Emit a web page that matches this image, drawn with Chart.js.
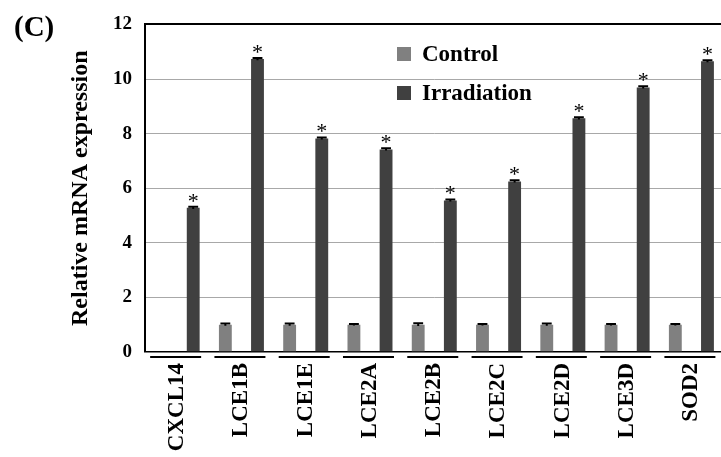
<!DOCTYPE html>
<html>
<head>
<meta charset="utf-8">
<script src="https://cdn.jsdelivr.net/npm/chart.js@4.4.1/dist/chart.umd.min.js"></script>
<style>
  html, body { margin: 0; padding: 0; background: #fff; overflow: hidden; }
  #wrap { width: 730px; height: 457px; }
</style>
</head>
<body>
<div id="wrap"><canvas id="mrnaChart"></canvas></div>
<script>
const genes = ['CXCL14', 'LCE1B', 'LCE1E', 'LCE2A', 'LCE2B', 'LCE2C', 'LCE2D', 'LCE3D', 'SOD2'];
const controlValues = [null, 1, 1, 1, 1, 1, 1, 1, 1];
const controlErrors = [0, 0.04, 0.04, 0.03, 0.05, 0.03, 0.04, 0.03, 0.03];
const irradiationValues = [5.28, 10.73, 7.82, 7.42, 5.55, 6.25, 8.56, 9.69, 10.65];
const irradiationErrors = [0.04, 0.04, 0.04, 0.04, 0.04, 0.04, 0.04, 0.04, 0.04];
const significance = ['*', '*', '*', '*', '*', '*', '*', '*', '*'];
const yTicks = [0, 2, 4, 6, 8, 10, 12];
const panelLabel = '(C)';

const serif = '"Liberation Serif", "Times New Roman", serif';

// small error caps on top of every bar
const errorBars = {
  id: 'errorBars',
  afterDatasetsDraw(chart) {
    const ctx = chart.ctx;
    const y = chart.scales.y;
    ctx.save();
    ctx.strokeStyle = '#000';
    ctx.lineWidth = 2;
    chart.data.datasets.forEach((ds, i) => {
      chart.getDatasetMeta(i).data.forEach((bar, j) => {
        const v = ds.data[j];
        if (v == null) return;
        const e = ds.errors[j];
        const top = y.getPixelForValue(v + e);
        const bot = y.getPixelForValue(v - e);
        const half = bar.width / 2 - 1.5;
        ctx.beginPath();
        ctx.moveTo(bar.x, bot);
        ctx.lineTo(bar.x, top);
        ctx.moveTo(bar.x - half, top);
        ctx.lineTo(bar.x + half, top);
        ctx.stroke();
      });
    });
    ctx.restore();
  }
};

const extras = {
  id: 'extras',
  afterDraw(chart) {
    const ctx = chart.ctx;
    const x = chart.scales.x;
    const y = chart.scales.y;
    const area = chart.chartArea;
    ctx.save();

    // asterisks over irradiation bars
    ctx.fillStyle = '#000';
    ctx.font = '22px ' + serif;
    ctx.textAlign = 'center';
    ctx.textBaseline = 'alphabetic';
    const irr = chart.getDatasetMeta(1).data;
    irr.forEach((bar, j) => {
      if (!significance[j]) return;
      const top = y.getPixelForValue(irradiationValues[j] + irradiationErrors[j]);
      ctx.fillText(significance[j], bar.x, top + 1);
    });

    // underline under each category
    ctx.strokeStyle = '#000';
    ctx.lineWidth = 2;
    genes.forEach((g, j) => {
      const cx = x.getPixelForValue(j);
      ctx.beginPath();
      ctx.moveTo(cx - 27, area.bottom + 5);
      ctx.lineTo(cx + 24, area.bottom + 5);
      ctx.stroke();
    });

    // legend
    ctx.font = 'bold 23px ' + serif;
    ctx.textAlign = 'left';
    ctx.textBaseline = 'middle';
    chart.data.datasets.forEach((ds, i) => {
      const ly = 54 + i * 39;
      ctx.fillStyle = ds.backgroundColor;
      ctx.fillRect(397, ly - 7, 14, 14);
      ctx.fillStyle = '#000';
      ctx.fillText(ds.label, 422, ly + 1);
    });

    // panel label
    ctx.font = 'bold 29px ' + serif;
    ctx.fillText(panelLabel, 14, 29);
    ctx.restore();
  }
};

new Chart(document.getElementById('mrnaChart'), {
  type: 'bar',
  data: {
    labels: genes,
    datasets: [
      {
        label: 'Control',
        data: controlValues,
        errors: controlErrors,
        backgroundColor: '#808080',
        categoryPercentage: 1.0,
        barPercentage: 0.4
      },
      {
        label: 'Irradiation',
        data: irradiationValues,
        errors: irradiationErrors,
        backgroundColor: '#404040',
        categoryPercentage: 1.0,
        barPercentage: 0.4
      }
    ]
  },
  options: {
    responsive: true,
    maintainAspectRatio: false,
    animation: false,
    layout: { padding: { top: 17, left: 0, right: 0, bottom: 0 } },
    plugins: {
      legend: { display: false },
      tooltip: { enabled: false }
    },
    scales: {
      x: {
        grid: { display: false, drawTicks: false },
        border: { display: false },
        ticks: {
          color: '#000',
          font: { family: serif, size: 23, weight: 'bold' },
          minRotation: 90,
          maxRotation: 90,
          autoSkip: false,
          padding: 11
        },
        afterFit: s => { s.height = 105; }
      },
      y: {
        min: 0,
        max: 12,
        afterBuildTicks: s => { s.ticks = yTicks.map(v => ({ value: v })); },
        grid: {
          drawTicks: false,
          color: c => (c.tick.value === 12 || c.tick.value === 0) ? '#000' : '#a8a8a8',
          lineWidth: c => c.tick.value === 12 ? 2 : (c.tick.value === 0 ? 1.5 : 1)
        },
        border: { display: true, color: '#000', width: 2 },
        ticks: {
          color: '#000',
          font: { family: serif, size: 19, weight: 'bold' },
          padding: 13
        },
        title: {
          display: true,
          text: 'Relative mRNA expression',
          color: '#000',
          font: { family: serif, size: 24, weight: 'bold' },
          padding: { top: 66, bottom: 0 }
        },
        afterFit: s => { s.width = 145; }
      }
    }
  },
  plugins: [errorBars, extras]
});
</script>
</body>
</html>
